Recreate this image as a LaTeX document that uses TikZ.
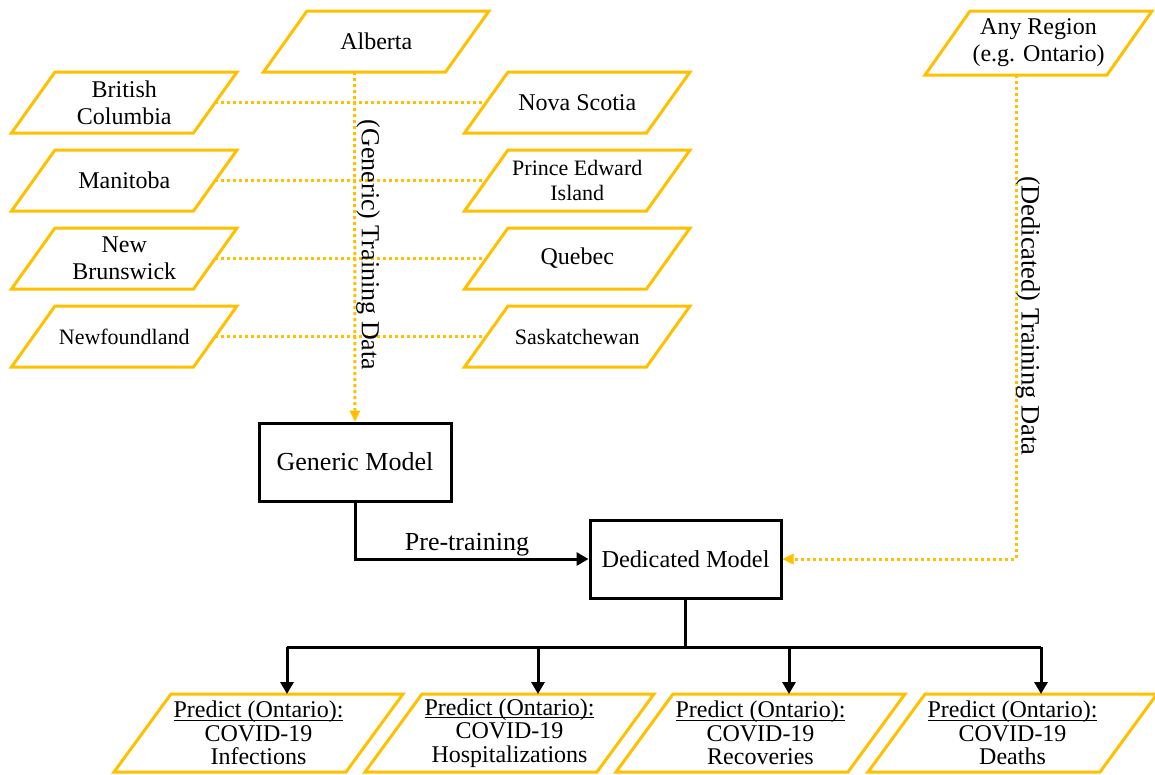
\documentclass[tikz,border=0pt]{standalone}
\usepackage{fontspec}
\setmainfont{Liberation Serif}
\usetikzlibrary{arrows.meta}
\definecolor{gold}{RGB}{255,192,0}
\newcommand{\myul}[1]{\setbox0\hbox{#1}\rlap{\raisebox{-3pt}{\rule{\wd0}{1pt}}}\box0}
% name, tlx, tly, width, height, slant, node options, text
\newcommand{\mypara}[8]{%
  \draw[pedge] (#2,#3) -- ++(#4,0) -- ++(-#6,#5) -- ++(-#4,0) -- cycle;
  \node[ptext,#7] (#1) at ({#2+#4/2-#6/2},{#3+#5/2}) {#8};
  \coordinate (#1-r) at ({#2+#4-#6/2},{#3+#5/2});
  \coordinate (#1-l) at ({#2-#6/2},{#3+#5/2});
  \coordinate (#1-t) at ({#2+#4/2},#3);
  \coordinate (#1-b) at ({#2+#4/2-#6},{#3+#5});
}
\begin{document}
\begin{tikzpicture}[x=1pt,y=-1pt,
  pedge/.style={draw=gold,line width=3pt,fill=white,line join=miter},
  ptext/.style={align=center,inner sep=0pt},
  rfont/.style={font=\fontsize{24}{27}\selectfont},
  sfont/.style={font=\fontsize{22}{25}\selectfont},
  ofont/.style={font=\fontsize{24}{23.5}\selectfont},
  model/.style={draw=black,line width=3pt,fill=white,inner sep=0pt,minimum height=78pt},
  gdot/.style={draw=gold,line width=3pt,dash pattern=on 3pt off 3pt},
  garrow/.style={gdot,-{Triangle[length=11pt,width=11pt,fill=gold,line width=0pt]}},
  blk/.style={draw=black,line width=3pt},
  barrow/.style={blk,-{Triangle[length=12pt,width=13pt]}},
]
\useasboundingbox (0,0) rectangle (1155,774);

% region boxes
\mypara{alb}{307}{11}{182}{61}{43.5}{rfont}{Alberta}
\mypara{bc}{55}{72}{182}{61}{43.5}{rfont}{British\\Columbia}
\mypara{man}{55}{150}{182}{61}{43.5}{rfont}{Manitoba}
\mypara{nb}{55}{228}{182}{61}{43.5}{rfont}{New\\Brunswick}
\mypara{nf}{55}{306}{182}{61}{43.5}{sfont}{Newfoundland}
\mypara{ns}{508}{72}{182}{61}{43.5}{rfont}{Nova Scotia}
\mypara{pei}{508}{150}{182}{61}{43.5}{sfont}{Prince Edward\\Island}
\mypara{qc}{508}{228}{182}{61}{43.5}{rfont}{Quebec}
\mypara{sk}{508}{306}{182}{61}{43.5}{sfont}{Saskatchewan}
\mypara{any}{970}{11}{182}{64}{45}{rfont}{Any Region\\(e.g. Ontario)}

% dotted links between rows
\draw[gdot] (bc-r) -- (ns-l);
\draw[gdot] (man-r) -- (pei-l);
\draw[gdot] (nb-r) -- (qc-l);
\draw[gdot] (nf-r) -- (sk-l);

% models
\node[model,minimum width=192pt,font=\fontsize{26}{30}\selectfont] (gen) at (355,462) {Generic Model};
\node[model,minimum width=191pt,font=\fontsize{24.3}{28}\selectfont] (ded) at (685.5,559) {Dedicated Model};

% generic training data
\draw[garrow] (alb-b) -- (gen.north);
\node[rotate=-90,inner sep=0pt,font=\fontsize{26}{30}\selectfont] (gtd) at (368,245) {(Generic) Training Data};

% dedicated training data
\draw[garrow] (any-b) |- (ded.east);
\node[rotate=-90,inner sep=0pt,font=\fontsize{26.5}{30}\selectfont] (dtd) at (1028,316) {(Dedicated) Training Data};

% pre-training
\draw[barrow] (gen.south) |- (ded.west);
\node[inner sep=0pt,font=\fontsize{26}{30}\selectfont] (pt) at (467,545) {Pre-training};

% outputs
\mypara{o1}{171}{694}{232}{78}{57}{ofont}{\myul{Predict (Ontario):}\\COVID-19\\Infections}
\mypara{o2}{422}{694}{232}{78}{57}{ofont}{\myul{Predict (Ontario):}\\COVID-19\\Hospitalizations}
\mypara{o3}{673}{694}{232}{78}{57}{ofont}{\myul{Predict (Ontario):}\\COVID-19\\Recoveries}
\mypara{o4}{925}{694}{232}{78}{57}{ofont}{\myul{Predict (Ontario):}\\COVID-19\\Deaths}

\coordinate (bus) at (685.5,647);
\draw[blk] (ded.south) -- (bus);
\draw[blk] (o1-t |- bus) -- (o4-t |- bus);
\draw[barrow] (o1-t |- bus) -- (o1-t);
\draw[barrow] (o2-t |- bus) -- (o2-t);
\draw[barrow] (o3-t |- bus) -- (o3-t);
\draw[barrow] (o4-t |- bus) -- (o4-t);
\end{tikzpicture}
\end{document}
